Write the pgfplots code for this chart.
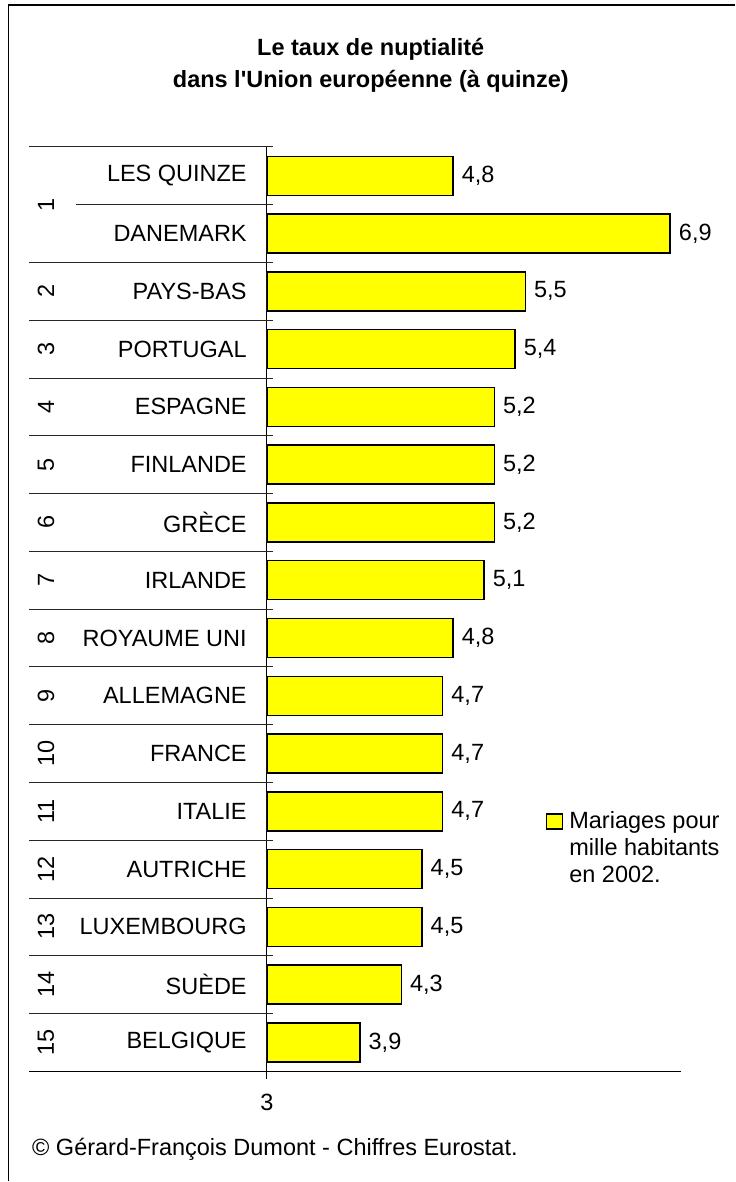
\documentclass[border=0pt]{standalone}
\usepackage{pgfplots}
\pgfplotsset{compat=1.18}
\usepackage{fontspec}
\setmainfont{Liberation Sans}[Ligatures=TeXOff]
\definecolor{baryellow}{RGB}{255,255,0}
\newcommand\fs{\fontsize{23.5}{27}\selectfont}
\begin{document}
\begin{tikzpicture}[x=1pt,y=1pt]
\path (0,0) rectangle (735,1182);
\draw[line width=1.5pt] (8.5,0) -- (8.5,1177) -- (735,1177);
\node[font=\fs\bfseries, anchor=base] at (371,1126) {Le taux de nuptialité};
\node[font=\fs\bfseries, anchor=base] at (371,1094) {dans l'Union européenne (à quinze)};
\node[font=\fs, anchor=base west, inner sep=0pt] at (32,26) {© Gérard-François Dumont - Chiffres Eurostat.};
\begin{axis}[
  at={(267pt,110pt)}, anchor=south west,
  scale only axis, width=414pt, height=925pt,
  xmin=3, xmax=7, ymin=-0.5, ymax=15.5,
  clip mode=individual,
  axis x line*=bottom, axis y line*=left,
  axis line style={black, line width=1.2pt},
  major tick length=0pt,
  /pgf/number format/assume math mode=true,
  xtick={3},
  xticklabel style={font=\fs, inner sep=0pt, anchor=north, yshift=-23pt},
  ytick={0,...,15},
  yticklabels={BELGIQUE,SUÈDE,LUXEMBOURG,AUTRICHE,ITALIE,FRANCE,ALLEMAGNE,ROYAUME UNI,IRLANDE,GRÈCE,FINLANDE,ESPAGNE,PORTUGAL,PAYS-BAS,DANEMARK,LES QUINZE},
  yticklabel style={font=\fs, anchor=east, inner sep=0pt, xshift=-20pt},
  legend style={draw=none, fill=none, at={(0.674,0.283)}, anchor=north west, font=\fs, cells={align=left, anchor=west}, inner sep=0pt,
    /tikz/every odd column/.append style={column sep=4pt}},
  legend image code/.code={\draw[fill=baryellow,line width=1.5pt] (0pt,19pt) rectangle (16pt,34pt);},
]
\addplot[xbar, bar width=39pt, fill=baryellow, draw=black, line width=1.5pt,
  point meta=x, nodes near coords,
  nodes near coords align={horizontal},
  every node near coord/.append style={font=\fs, anchor=west, inner sep=0pt, xshift=8pt, black,
    /pgf/number format/.cd, fixed, fixed zerofill, precision=1, use comma, assume math mode=true}]
table {
x y
4.8 15
6.9 14
5.5 13
5.4 12
5.2 11
5.2 10
5.2 9
5.1 8
4.8 7
4.7 6
4.7 5
4.7 4
4.5 3
4.5 2
4.3 1
3.9 0
};
\addlegendentry{Mariages pour\\mille habitants\\en 2002.}
\pgfplotsinvokeforeach{0.5,1.5,2.5,3.5,4.5,5.5,6.5,7.5,8.5,9.5,10.5,11.5,12.5,13.5,15.5}{
  \draw[line width=0.9pt, black!85] ([xshift=6pt]axis cs:3,#1) -- ([xshift=-238pt]axis cs:3,#1);
}
\draw[line width=0.9pt, black!85] ([xshift=6pt]axis cs:3,14.5) -- ([xshift=-191pt]axis cs:3,14.5);
\draw[line width=1.2pt] (axis cs:3,-0.5) -- ([xshift=-238pt]axis cs:3,-0.5);
\draw[line width=1.2pt] (axis cs:3,-0.5) -- ([yshift=-8pt]axis cs:3,-0.5);
\node[rotate=90, font=\fs] at ([xshift=-221pt]axis cs:3,14.5) {1};
\node[rotate=90, font=\fs] at ([xshift=-221pt]axis cs:3,13) {2};
\node[rotate=90, font=\fs] at ([xshift=-221pt]axis cs:3,12) {3};
\node[rotate=90, font=\fs] at ([xshift=-221pt]axis cs:3,11) {4};
\node[rotate=90, font=\fs] at ([xshift=-221pt]axis cs:3,10) {5};
\node[rotate=90, font=\fs] at ([xshift=-221pt]axis cs:3,9) {6};
\node[rotate=90, font=\fs] at ([xshift=-221pt]axis cs:3,8) {7};
\node[rotate=90, font=\fs] at ([xshift=-221pt]axis cs:3,7) {8};
\node[rotate=90, font=\fs] at ([xshift=-221pt]axis cs:3,6) {9};
\node[rotate=90, font=\fs] at ([xshift=-221pt]axis cs:3,5) {10};
\node[rotate=90, font=\fs] at ([xshift=-221pt]axis cs:3,4) {11};
\node[rotate=90, font=\fs] at ([xshift=-221pt]axis cs:3,3) {12};
\node[rotate=90, font=\fs] at ([xshift=-221pt]axis cs:3,2) {13};
\node[rotate=90, font=\fs] at ([xshift=-221pt]axis cs:3,1) {14};
\node[rotate=90, font=\fs] at ([xshift=-221pt]axis cs:3,0) {15};
\end{axis}
\end{tikzpicture}
\end{document}
